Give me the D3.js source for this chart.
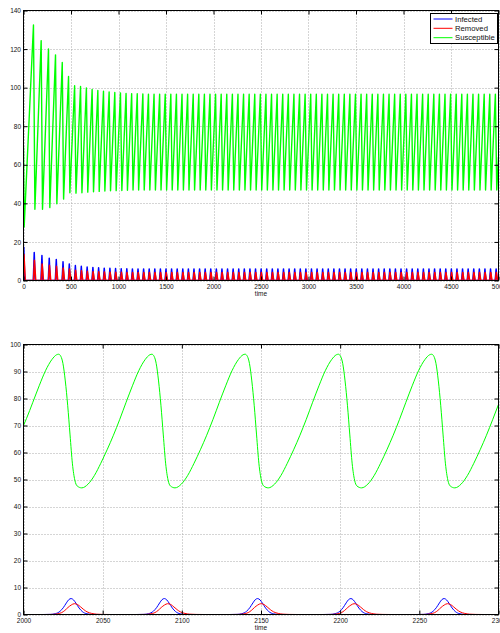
<!DOCTYPE html>
<html><head><meta charset="utf-8">
<script src="https://cdn.jsdelivr.net/npm/d3@7"></script>
<style>body{margin:0;background:#fff}svg{display:block}text{font-family:"Liberation Sans",Arial,sans-serif}</style>
</head><body><svg id="chart" width="500" height="633"></svg>
<script>
// ---------------- DATA ----------------
const seriesNames = ["Infected", "Removed", "Susceptible"];
const seriesColors = ["#0000ff", "#ff0000", "#00ff00"];

// top panel ticks
const topXTicks = [0, 500, 1000, 1500, 2000, 2500, 3000, 3500, 4000, 4500, 5000];
const topYTicks = [0, 20, 40, 60, 80, 100, 120, 140];
// bottom panel ticks
const botXTicks = [2000, 2050, 2100, 2150, 2200, 2250, 2300];
const botYTicks = [0, 10, 20, 30, 40, 50, 60, 70, 80, 90, 100];

// TOP: Susceptible turning points
const topSEndsT = [0, 5000];
const topSEndsV = [69.5, 64];
const topSPeakT = [105, 186, 263, 337, 408, 474, 538, 600.5, 662, 722.5, 782.5, 842, 901.5, 961,
  1020.7, 1079.6, 1138.5, 1197.4, 1256.3, 1315.2, 1374.1, 1433.0, 1491.9, 1550.8,
  1609.7, 1668.6, 1727.5, 1786.4, 1845.3, 1904.2, 1963.1, 2022.0, 2080.9, 2139.8,
  2198.7, 2257.6, 2316.5, 2375.4, 2434.3, 2493.2, 2552.1, 2611.0, 2669.9, 2728.8,
  2787.7, 2846.6, 2905.5, 2964.4, 3023.3, 3082.2, 3141.1, 3200.0, 3258.9, 3317.8,
  3376.7, 3435.6, 3494.5, 3553.4, 3612.3, 3671.2, 3730.1, 3789.0, 3847.9, 3906.8,
  3965.7, 4024.6, 4083.5, 4142.4, 4201.3, 4260.2, 4319.1, 4378.0, 4436.9, 4495.8,
  4554.7, 4613.6, 4672.5, 4731.4, 4790.3, 4849.2, 4908.1, 4967.0];
const topSPeakV = [132.5, 124.4, 120, 117, 113, 105.8, 101, 100.6, 99.8, 99.1, 98.5, 98.1, 97.8, 97.5,
  97.2, 97.0, 96.9, 96.8, 96.7, 96.6, 96.6, 96.6, 96.6, 96.6,
  96.6, 96.6, 96.6, 96.6, 96.6, 96.6, 96.6, 96.6, 96.6, 96.6,
  96.6, 96.6, 96.6, 96.6, 96.6, 96.6, 96.6, 96.6, 96.6, 96.6,
  96.6, 96.6, 96.6, 96.6, 96.6, 96.6, 96.6, 96.6, 96.6, 96.6,
  96.6, 96.6, 96.6, 96.6, 96.6, 96.6, 96.6, 96.6, 96.6, 96.6,
  96.6, 96.6, 96.6, 96.6, 96.6, 96.6, 96.6, 96.6, 96.6, 96.6,
  96.6, 96.6, 96.6, 96.6, 96.6, 96.6, 96.6, 96.6];
const topSTroughT = [7, 120, 200, 277, 351, 422, 488, 552.5, 615, 676.5, 737, 797, 856.5, 916, 975.5,
  1035.2, 1094.1, 1153.0, 1211.9, 1270.8, 1329.7, 1388.6, 1447.5, 1506.4, 1565.3,
  1624.2, 1683.1, 1742.0, 1800.9, 1859.8, 1918.7, 1977.6, 2036.5, 2095.4, 2154.3,
  2213.2, 2272.1, 2331.0, 2389.9, 2448.8, 2507.7, 2566.6, 2625.5, 2684.4, 2743.3,
  2802.2, 2861.1, 2920.0, 2978.9, 3037.8, 3096.7, 3155.6, 3214.5, 3273.4, 3332.3,
  3391.2, 3450.1, 3509.0, 3567.9, 3626.8, 3685.7, 3744.6, 3803.5, 3862.4, 3921.3,
  3980.2, 4039.1, 4098.0, 4156.9, 4215.8, 4274.7, 4333.6, 4392.5, 4451.4, 4510.3,
  4569.2, 4628.1, 4687.0, 4745.9, 4804.8, 4863.7, 4922.6, 4981.5];
const topSTroughV = [27.8, 36.9, 36.9, 37.8, 39.8, 42.2, 45.5, 45.3, 45.5, 45.8, 46.0, 46.2, 46.4, 46.5, 46.6,
  46.7, 46.8, 46.9, 46.9, 46.9, 46.9, 46.9, 46.9, 46.9, 46.9,
  46.9, 46.9, 46.9, 46.9, 46.9, 46.9, 46.9, 46.9, 46.9, 46.9,
  46.9, 46.9, 46.9, 46.9, 46.9, 46.9, 46.9, 46.9, 46.9, 46.9,
  46.9, 46.9, 46.9, 46.9, 46.9, 46.9, 46.9, 46.9, 46.9, 46.9,
  46.9, 46.9, 46.9, 46.9, 46.9, 46.9, 46.9, 46.9, 46.9, 46.9,
  46.9, 46.9, 46.9, 46.9, 46.9, 46.9, 46.9, 46.9, 46.9, 46.9,
  46.9, 46.9, 46.9, 46.9, 46.9, 46.9, 46.9, 46.9];

// TOP: epidemic spikes (Infected peak times, Infected / Removed peak heights)
const topSpikeT = [3, 113, 194, 271, 345, 416, 482, 546, 608.5, 670, 730.5, 790.5, 850, 909.5, 969,
  1028.7, 1087.6, 1146.5, 1205.4, 1264.3, 1323.2, 1382.1, 1441.0, 1499.9, 1558.8,
  1617.7, 1676.6, 1735.5, 1794.4, 1853.3, 1912.2, 1971.1, 2030.0, 2088.9, 2147.8,
  2206.7, 2265.6, 2324.5, 2383.4, 2442.3, 2501.2, 2560.1, 2619.0, 2677.9, 2736.8,
  2795.7, 2854.6, 2913.5, 2972.4, 3031.3, 3090.2, 3149.1, 3208.0, 3266.9, 3325.8,
  3384.7, 3443.6, 3502.5, 3561.4, 3620.3, 3679.2, 3738.1, 3797.0, 3855.9, 3914.8,
  3973.7, 4032.6, 4091.5, 4150.4, 4209.3, 4268.2, 4327.1, 4386.0, 4444.9, 4503.8,
  4562.7, 4621.6, 4680.5, 4739.4, 4798.3, 4857.2, 4916.1, 4975.0];
const topSpikeI = [17.2, 14.5, 13, 11.6, 10.9, 9.7, 8.6, 7.8, 7.4, 7.0, 6.8, 6.6, 6.4, 6.3, 6.2,
  6.1, 6.05, 6.0, 6.0, 6.0, 6.0, 6.0, 6.0, 6.0, 6.0,
  6.0, 6.0, 6.0, 6.0, 6.0, 6.0, 6.0, 6.0, 6.0, 6.0,
  6.0, 6.0, 6.0, 6.0, 6.0, 6.0, 6.0, 6.0, 6.0, 6.0,
  6.0, 6.0, 6.0, 6.0, 6.0, 6.0, 6.0, 6.0, 6.0, 6.0,
  6.0, 6.0, 6.0, 6.0, 6.0, 6.0, 6.0, 6.0, 6.0, 6.0,
  6.0, 6.0, 6.0, 6.0, 6.0, 6.0, 6.0, 6.0, 6.0, 6.0,
  6.0, 6.0, 6.0, 6.0, 6.0, 6.0, 6.0, 6.0];
const topSpikeR = [13.5, 10.5, 8.6, 7.9, 7.4, 6.5, 6.0, 5.3, 5.0, 4.8, 4.6, 4.5, 4.4, 4.3, 4.3,
  4.25, 4.2, 4.2, 4.2, 4.2, 4.2, 4.2, 4.2, 4.2, 4.2,
  4.2, 4.2, 4.2, 4.2, 4.2, 4.2, 4.2, 4.2, 4.2, 4.2,
  4.2, 4.2, 4.2, 4.2, 4.2, 4.2, 4.2, 4.2, 4.2, 4.2,
  4.2, 4.2, 4.2, 4.2, 4.2, 4.2, 4.2, 4.2, 4.2, 4.2,
  4.2, 4.2, 4.2, 4.2, 4.2, 4.2, 4.2, 4.2, 4.2, 4.2,
  4.2, 4.2, 4.2, 4.2, 4.2, 4.2, 4.2, 4.2, 4.2, 4.2,
  4.2, 4.2, 4.2, 4.2, 4.2, 4.2, 4.2, 4.2];

// BOTTOM: Susceptible
const botSTime = [2000, 2001.9, 2005.9, 2009.9, 2013.9, 2017.9, 2020.9, 2022.2, 2023.6, 2024.9, 2026.4, 2027.9, 2029.4, 2030.9, 2032.4, 2033.9,
  2036.8, 2040.8, 2044.8, 2048.8, 2052.8, 2056.8, 2060.8, 2064.8, 2068.8, 2072.8, 2076.8, 2079.8, 2081.1, 2082.5, 2083.8, 2085.3, 2086.8, 2088.3, 2089.8, 2091.3, 2092.8,
  2095.7, 2099.7, 2103.7, 2107.7, 2111.7, 2115.7, 2119.7, 2123.7, 2127.7, 2131.7, 2135.7, 2138.7, 2140.0, 2141.4, 2142.7, 2144.2, 2145.7, 2147.2, 2148.7, 2150.2, 2151.7,
  2154.6, 2158.6, 2162.6, 2166.6, 2170.6, 2174.6, 2178.6, 2182.6, 2186.6, 2190.6, 2194.6, 2197.6, 2198.9, 2200.3, 2201.6, 2203.1, 2204.6, 2206.1, 2207.6, 2209.1, 2210.6,
  2213.5, 2217.5, 2221.5, 2225.5, 2229.5, 2233.5, 2237.5, 2241.5, 2245.5, 2249.5, 2253.5, 2256.5, 2257.8, 2259.2, 2260.5, 2262.0, 2263.5, 2265.0, 2266.5, 2268.0, 2269.5,
  2272.4, 2276.4, 2280.4, 2284.4, 2288.4, 2292.4, 2296.4, 2300];
const botS = [70.0, 72.6, 78.6, 84.7, 90.3, 94.4, 96.2, 96.4, 95.6, 93.0, 86.5, 77.5, 66.5, 55.8, 49.8, 47.6,
  46.9, 48.3, 51.5, 56, 61, 66.4, 72.3, 78.6, 84.7, 90.3, 94.4, 96.2, 96.4, 95.6, 93.0, 86.5, 77.5, 66.5, 55.8, 49.8, 47.6,
  46.9, 48.3, 51.5, 56, 61, 66.4, 72.3, 78.6, 84.7, 90.3, 94.4, 96.2, 96.4, 95.6, 93.0, 86.5, 77.5, 66.5, 55.8, 49.8, 47.6,
  46.9, 48.3, 51.5, 56, 61, 66.4, 72.3, 78.6, 84.7, 90.3, 94.4, 96.2, 96.4, 95.6, 93.0, 86.5, 77.5, 66.5, 55.8, 49.8, 47.6,
  46.9, 48.3, 51.5, 56, 61, 66.4, 72.3, 78.6, 84.7, 90.3, 94.4, 96.2, 96.4, 95.6, 93.0, 86.5, 77.5, 66.5, 55.8, 49.8, 47.6,
  46.9, 48.3, 51.5, 56, 61, 66.4, 72.3, 77.8];

// BOTTOM: Infected
const botITime = [2000,
  2012.1, 2017.1, 2020.1, 2023.1, 2025.1, 2027.1, 2028.6, 2030.1, 2031.6, 2033.1, 2035.1, 2037.1, 2040.1, 2043.1, 2048.1,
  2071.0, 2076.0, 2079.0, 2082.0, 2084.0, 2086.0, 2087.5, 2089.0, 2090.5, 2092.0, 2094.0, 2096.0, 2099.0, 2102.0, 2107.0,
  2129.9, 2134.9, 2137.9, 2140.9, 2142.9, 2144.9, 2146.4, 2147.9, 2149.4, 2150.9, 2152.9, 2154.9, 2157.9, 2160.9, 2165.9,
  2188.8, 2193.8, 2196.8, 2199.8, 2201.8, 2203.8, 2205.3, 2206.8, 2208.3, 2209.8, 2211.8, 2213.8, 2216.8, 2219.8, 2224.8,
  2247.7, 2252.7, 2255.7, 2258.7, 2260.7, 2262.7, 2264.2, 2265.7, 2267.2, 2268.7, 2270.7, 2272.7, 2275.7, 2278.7, 2283.7,
  2300];
const botI = [0,
  0, 0.05, 0.3, 1.2, 2.5, 4.3, 5.5, 5.9, 5.4, 4.2, 2.4, 1.1, 0.25, 0.04, 0,
  0, 0.05, 0.3, 1.2, 2.5, 4.3, 5.5, 5.9, 5.4, 4.2, 2.4, 1.1, 0.25, 0.04, 0,
  0, 0.05, 0.3, 1.2, 2.5, 4.3, 5.5, 5.9, 5.4, 4.2, 2.4, 1.1, 0.25, 0.04, 0,
  0, 0.05, 0.3, 1.2, 2.5, 4.3, 5.5, 5.9, 5.4, 4.2, 2.4, 1.1, 0.25, 0.04, 0,
  0, 0.05, 0.3, 1.2, 2.5, 4.3, 5.5, 5.9, 5.4, 4.2, 2.4, 1.1, 0.25, 0.04, 0,
  0];

// BOTTOM: Removed
const botRTime = [2000,
  2013.1, 2018.1, 2021.1, 2024.1, 2026.1, 2028.1, 2030.1, 2032.1, 2034.1, 2036.1, 2038.1, 2040.1, 2043.1, 2046.1, 2050.1, 2055.1,
  2072.0, 2077.0, 2080.0, 2083.0, 2085.0, 2087.0, 2089.0, 2091.0, 2093.0, 2095.0, 2097.0, 2099.0, 2102.0, 2105.0, 2109.0, 2114.0,
  2130.9, 2135.9, 2138.9, 2141.9, 2143.9, 2145.9, 2147.9, 2149.9, 2151.9, 2153.9, 2155.9, 2157.9, 2160.9, 2163.9, 2167.9, 2172.9,
  2189.8, 2194.8, 2197.8, 2200.8, 2202.8, 2204.8, 2206.8, 2208.8, 2210.8, 2212.8, 2214.8, 2216.8, 2219.8, 2222.8, 2226.8, 2231.8,
  2248.7, 2253.7, 2256.7, 2259.7, 2261.7, 2263.7, 2265.7, 2267.7, 2269.7, 2271.7, 2273.7, 2275.7, 2278.7, 2281.7, 2285.7, 2290.7,
  2300];
const botR = [0,
  0, 0.03, 0.2, 0.7, 1.5, 2.6, 3.5, 4.0, 3.7, 2.8, 1.8, 1.0, 0.4, 0.12, 0.03, 0,
  0, 0.03, 0.2, 0.7, 1.5, 2.6, 3.5, 4.0, 3.7, 2.8, 1.8, 1.0, 0.4, 0.12, 0.03, 0,
  0, 0.03, 0.2, 0.7, 1.5, 2.6, 3.5, 4.0, 3.7, 2.8, 1.8, 1.0, 0.4, 0.12, 0.03, 0,
  0, 0.03, 0.2, 0.7, 1.5, 2.6, 3.5, 4.0, 3.7, 2.8, 1.8, 1.0, 0.4, 0.12, 0.03, 0,
  0, 0.03, 0.2, 0.7, 1.5, 2.6, 3.5, 4.0, 3.7, 2.8, 1.8, 1.0, 0.4, 0.12, 0.03, 0,
  0];

// ---------------- BUILD POINT LISTS ----------------
function zip(a, b) { const n = Math.min(a.length, b.length); const r = []; for (let i = 0; i < n; i++) r.push([a[i], b[i]]); return r; }
const topS = zip(topSEndsT, topSEndsV).concat(zip(topSPeakT, topSPeakV), zip(topSTroughT, topSTroughV))
  .sort((a, b) => a[0] - b[0]);
const topI = [], topR = [];
zip(topSpikeT, topSpikeI).forEach(([t, v]) => { topI.push([t - 10, 0], [t, v], [t + 10, 0]); });
zip(topSpikeT, topSpikeR).forEach(([t, v]) => { topR.push([t - 8, 0], [t + 2, v], [t + 16, 0]); });

// ---------------- DRAW ----------------
const svg = d3.select("#chart");
const L = 23.5, Rt = 498.5;

function panel(p) {
  const x = d3.scaleLinear().domain(p.xDomain).range([L, Rt]);
  const y = d3.scaleLinear().domain(p.yDomain).range([p.y0, p.y1]);
  const g = svg.append("g");
  const id = "clip_" + p.name;
  svg.append("clipPath").attr("id", id).append("rect")
    .attr("x", L).attr("y", p.y1).attr("width", Rt - L).attr("height", p.y0 - p.y1);

  // grid
  g.append("g").selectAll("line").data(p.xTicks).join("line")
    .attr("x1", d => Math.round(x(d)) + 0.5).attr("x2", d => Math.round(x(d)) + 0.5)
    .attr("y1", p.y1).attr("y2", p.y0)
    .attr("stroke", "#ababab").attr("stroke-width", 1).attr("stroke-dasharray", "1,2");
  g.append("g").selectAll("line").data(p.yTicks).join("line")
    .attr("y1", d => Math.round(y(d)) + 0.5).attr("y2", d => Math.round(y(d)) + 0.5)
    .attr("x1", L).attr("x2", Rt)
    .attr("stroke", "#ababab").attr("stroke-width", 1).attr("stroke-dasharray", "1,2");

  // series
  const dg = g.append("g").attr("clip-path", `url(#${id})`);
  p.series.forEach(s => {
    const line = d3.line().x(d => x(d[0])).y(d => y(d[1])).curve(s.curve || d3.curveLinear);
    dg.append("path").attr("d", line(s.points)).attr("fill", "none")
      .attr("stroke", s.color).attr("stroke-width", s.width || 1).attr("stroke-linejoin", "round");
  });

  // box
  g.append("rect").attr("x", L).attr("y", p.y1).attr("width", Rt - L).attr("height", p.y0 - p.y1)
    .attr("fill", "none").attr("stroke", "#000").attr("stroke-width", 1);

  const fmt = d3.format("d");
  const style = sel => {
    sel.select(".domain").remove();
    sel.attr("font-size", 6.5).attr("font-family", "Liberation Sans, Arial, sans-serif");
    sel.selectAll("text").attr("fill", "#111");
  };
  g.append("g").attr("transform", `translate(0,${p.y0})`)
    .call(d3.axisBottom(x).tickValues(p.xTicks).tickSize(-4).tickPadding(3.5).tickFormat(fmt)).call(style);
  g.append("g").attr("transform", `translate(${L},0)`)
    .call(d3.axisLeft(y).tickValues(p.yTicks).tickSize(-4).tickPadding(2.5).tickFormat(fmt)).call(style);
  g.append("g").attr("transform", `translate(0,${p.y1})`)
    .call(d3.axisTop(x).tickValues(p.xTicks).tickSize(-4).tickFormat("")).call(style);
  g.append("g").attr("transform", `translate(${Rt},0)`)
    .call(d3.axisRight(y).tickValues(p.yTicks).tickSize(-4).tickFormat("")).call(style);

  g.append("text").attr("x", (L + Rt) / 2).attr("y", p.labelY).attr("text-anchor", "middle")
    .attr("font-size", 6.5).attr("fill", "#111").text("time");
  return { x, y, g };
}

panel({
  name: "top", xDomain: [0, 5000], yDomain: [0, 140], y0: 280.5, y1: 10.5,
  xTicks: topXTicks, yTicks: topYTicks, labelY: 296,
  series: [
    { points: topI, color: seriesColors[0], width: 1.5 },
    { points: topR, color: seriesColors[1], width: 1.5 },
    { points: topS, color: seriesColors[2], width: 1.4 }
  ]
});

panel({
  name: "bot", xDomain: [2000, 2300], yDomain: [0, 100], y0: 614.5, y1: 344.5,
  xTicks: botXTicks, yTicks: botYTicks, labelY: 630,
  series: [
    { points: zip(botITime, botI), color: seriesColors[0], width: 1, curve: d3.curveMonotoneX },
    { points: zip(botRTime, botR), color: seriesColors[1], width: 1, curve: d3.curveMonotoneX },
    { points: zip(botSTime, botS), color: seriesColors[2], width: 1, curve: d3.curveMonotoneX }
  ]
});

// legend
const lg = svg.append("g");
lg.append("rect").attr("x", 430.5).attr("y", 13.5).attr("width", 67).attr("height", 30)
  .attr("fill", "#fff").attr("stroke", "#000").attr("stroke-width", 1);
const legY = [19, 28.3, 37.7];
seriesNames.forEach((n, i) => {
  lg.append("line").attr("x1", 433.5).attr("x2", 452.5).attr("y1", legY[i]).attr("y2", legY[i])
    .attr("stroke", seriesColors[i]).attr("stroke-width", 1);
  lg.append("text").attr("x", 455).attr("y", legY[i] + 2.7).attr("font-size", 7.7).attr("fill", "#111").text(n);
});
</script></body></html>
